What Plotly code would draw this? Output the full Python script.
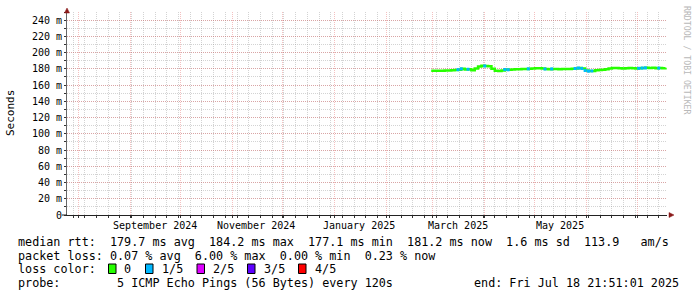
import plotly.graph_objects as go
import pandas as pd

# ---------------- data ----------------
dates = pd.date_range("2025-02-28", "2025-07-18", freq="2D")
median_ms = [
    177.8, 177.8, 177.7, 177.8, 177.9, 178.0, 178.3, 178.6, 179.0, 180.0,
    179.2, 179.5, 178.4, 180.5, 183.0, 183.8, 183.5, 183.2, 180.0, 177.5,
    177.2, 178.0, 179.2, 178.8, 179.3, 179.5, 179.6, 179.8, 179.9, 180.0,
    180.3, 180.6, 180.8, 180.3, 179.8, 179.6, 179.9, 179.8, 179.6, 179.7,
    179.8, 179.9, 180.0, 180.4, 181.0, 180.5, 178.0, 177.2, 177.4, 178.2,
    178.6, 178.9, 179.4, 180.5, 181.0, 180.9, 180.7, 180.4, 180.6, 180.9,
    180.8, 180.5, 180.7, 181.0, 181.2, 180.9, 181.4, 180.8, 180.9, 180.8,
    181.2,
]
loss = [
    0, 0, 0, 0, 0, 0, 0, 0, 1, 1,
    0, 1, 0, 0, 0, 0, 1, 0, 0, 0,
    0, 0, 1, 1, 0, 0, 0, 0, 0, 1,
    0, 0, 0, 0, 1, 0, 1, 0, 0, 0,
    0, 0, 0, 1, 1, 1, 1, 1, 1, 0,
    0, 0, 0, 0, 0, 0, 0, 0, 0, 0,
    0, 0, 1, 1, 1, 0, 0, 0, 1, 0,
    0,
]
n = min(len(dates), len(median_ms), len(loss))
dates, median_ms, loss = list(dates[:n]), median_ms[:n], loss[:n]

month_starts = pd.date_range("2024-08-01", "2025-07-01", freq="MS")
week_starts = pd.date_range("2024-07-29", "2025-07-18", freq="7D")
label_dates = ["2024-09-16", "2024-11-15", "2025-01-16", "2025-03-16", "2025-05-16"]
label_texts = ["September 2024", "November 2024", "January 2025", "March 2025", "May 2025"]
y_ticks = list(range(0, 241, 20))
y_ticktext = ["0"] + [f"{v} m" for v in y_ticks[1:]]

loss_names = ["0", "1/5", "2/5", "3/5", "4/5"]
loss_colors = ["#26ff00", "#00b8ff", "#dd00ff", "#5e00ff", "#ff0000"]

stat_line1 = "median rtt:  179.7 ms avg  184.2 ms max  177.1 ms min  181.2 ms now  1.6 ms sd  113.9   am/s"
stat_line2 = "packet loss: 0.07 % avg  6.00 % max  0.00 % min  0.23 % now"
probe_line = "probe:        5 ICMP Echo Pings (56 Bytes) every 120s"
end_line = "end: Fri Jul 18 21:51:01 2025"

# ---------------- geometry ----------------
W, H = 697, 297
L, R, T, B = 67, 30, 12, 82
PW, PH = W - L - R, H - T - B
def px(x):
    return (x - L) / PW
def py(y):
    return (H - B - y) / PH

MONO = "DejaVu Sans Mono"
fig = go.Figure()

fig.add_trace(go.Scatter(
    x=dates, y=median_ms, mode="lines", line=dict(color=loss_colors[0], width=2.5, shape="hv"),
    hoverinfo="skip", showlegend=False))
for k in range(1, 5):
    xs = [d for d, l in zip(dates, loss) if l == k]
    ys = [v for v, l in zip(median_ms, loss) if l == k]
    if xs:
        fig.add_trace(go.Scatter(
            x=xs, y=ys, mode="markers",
            marker=dict(symbol="square", size=3, color=loss_colors[k], line=dict(width=0)),
            hoverinfo="skip", showlegend=False))

PINK = "rgba(225,90,90,0.38)"
GRAY = "rgba(150,150,150,0.42)"

fig.update_layout(
    width=W, height=H, autosize=False,
    margin=dict(l=L, r=R, t=T, b=B, pad=0),
    paper_bgcolor="white", plot_bgcolor="white",
    showlegend=False,
    font=dict(family=MONO, size=10, color="black"),
    xaxis=dict(
        type="date", range=["2024-07-25 08:10", "2025-07-18 21:51"],
        tickmode="array", tickvals=list(month_starts), showticklabels=False,
        showgrid=True, gridcolor=PINK, griddash="1px,1px", gridwidth=1,
        ticks="outside", ticklen=2, tickcolor="#333",
        minor=dict(tickmode="array", tickvals=list(week_starts), showgrid=True,
                   gridcolor=GRAY, griddash="1px,1px", gridwidth=1,
                   ticks="outside", ticklen=2, tickcolor="#333"),
        showline=True, linecolor="#222", linewidth=1, zeroline=False, fixedrange=True,
    ),
    yaxis=dict(
        range=[0, 250], tickmode="array", tickvals=y_ticks, ticktext=y_ticktext,
        showgrid=True, gridcolor=PINK, griddash="1px,1px", gridwidth=1,
        ticks="outside", ticklen=2, tickcolor="#333",
        minor=dict(dtick=10, showgrid=True, gridcolor=GRAY, griddash="1px,1px",
                   ticks="outside", ticklen=2, tickcolor="#333"),
        showline=True, linecolor="#666", linewidth=1, zeroline=False,
        tickfont=dict(family=MONO, size=10), fixedrange=True,
    ),
)

shapes = []
shapes.append(dict(type="line", xref="paper", yref="paper", x0=px(62), x1=px(67),
                   y0=py(215), y1=py(215), line=dict(color="#222", width=1)))
ARROW = "#8b1a1a"
shapes.append(dict(type="path", xref="paper", yref="paper",
                   path=f"M {px(64.5)} {py(13)} L {px(69.5)} {py(13)} L {px(67)} {py(8)} Z",
                   fillcolor=ARROW, line=dict(color=ARROW, width=0.5)))
shapes.append(dict(type="path", xref="paper", yref="paper",
                   path=f"M {px(669)} {py(212.5)} L {px(669)} {py(217.5)} L {px(674)} {py(215)} Z",
                   fillcolor=ARROW, line=dict(color=ARROW, width=0.5)))

annotations = []
for d, t in zip(label_dates, label_texts):
    annotations.append(dict(x=d, y=py(225), xref="x", yref="paper", text=t, showarrow=False,
                            xanchor="center", yanchor="middle",
                            font=dict(family=MONO, size=10, color="black")))
annotations.append(dict(x=px(11), y=py(113), xref="paper", yref="paper", text="Seconds",
                        showarrow=False, textangle=-90, xanchor="center", yanchor="middle",
                        font=dict(family=MONO, size=11, color="black")))
annotations.append(dict(x=px(687), y=py(60), xref="paper", yref="paper",
                        text="RRDTOOL / TOBI OETIKER", showarrow=False, textangle=90,
                        xanchor="center", yanchor="middle",
                        font=dict(family=MONO, size=8.2, color="#b8b8b8")))

LF = 11.76
def txt(x, y, s, anchor="left"):
    annotations.append(dict(x=px(x), y=py(y), xref="paper", yref="paper", text=s.replace(" ", "&nbsp;"),
                            showarrow=False, xanchor=anchor, yanchor="middle",
                            font=dict(family=MONO, size=LF, color="black")))

txt(16, 241.5, stat_line1)
txt(16, 255.5, stat_line2)
txt(16, 269, "loss color:")
txt(16, 283, probe_line)
txt(681, 283, end_line, anchor="right")

box_x = [108.5, 145.5, 197, 247.5, 298.5]
lab_x = [122, 159.5, 211, 261.5, 312.5]
for bx, lx, name, col in zip(box_x, lab_x, loss_names, loss_colors):
    shapes.append(dict(type="rect", xref="paper", yref="paper",
                       x0=px(bx), x1=px(bx + 7.5), y0=py(273.5), y1=py(264),
                       fillcolor=col, line=dict(color="black", width=1)))
    txt(lx, 269, name)

fig.update_layout(shapes=shapes, annotations=annotations)
fig.write_html("out.html")
